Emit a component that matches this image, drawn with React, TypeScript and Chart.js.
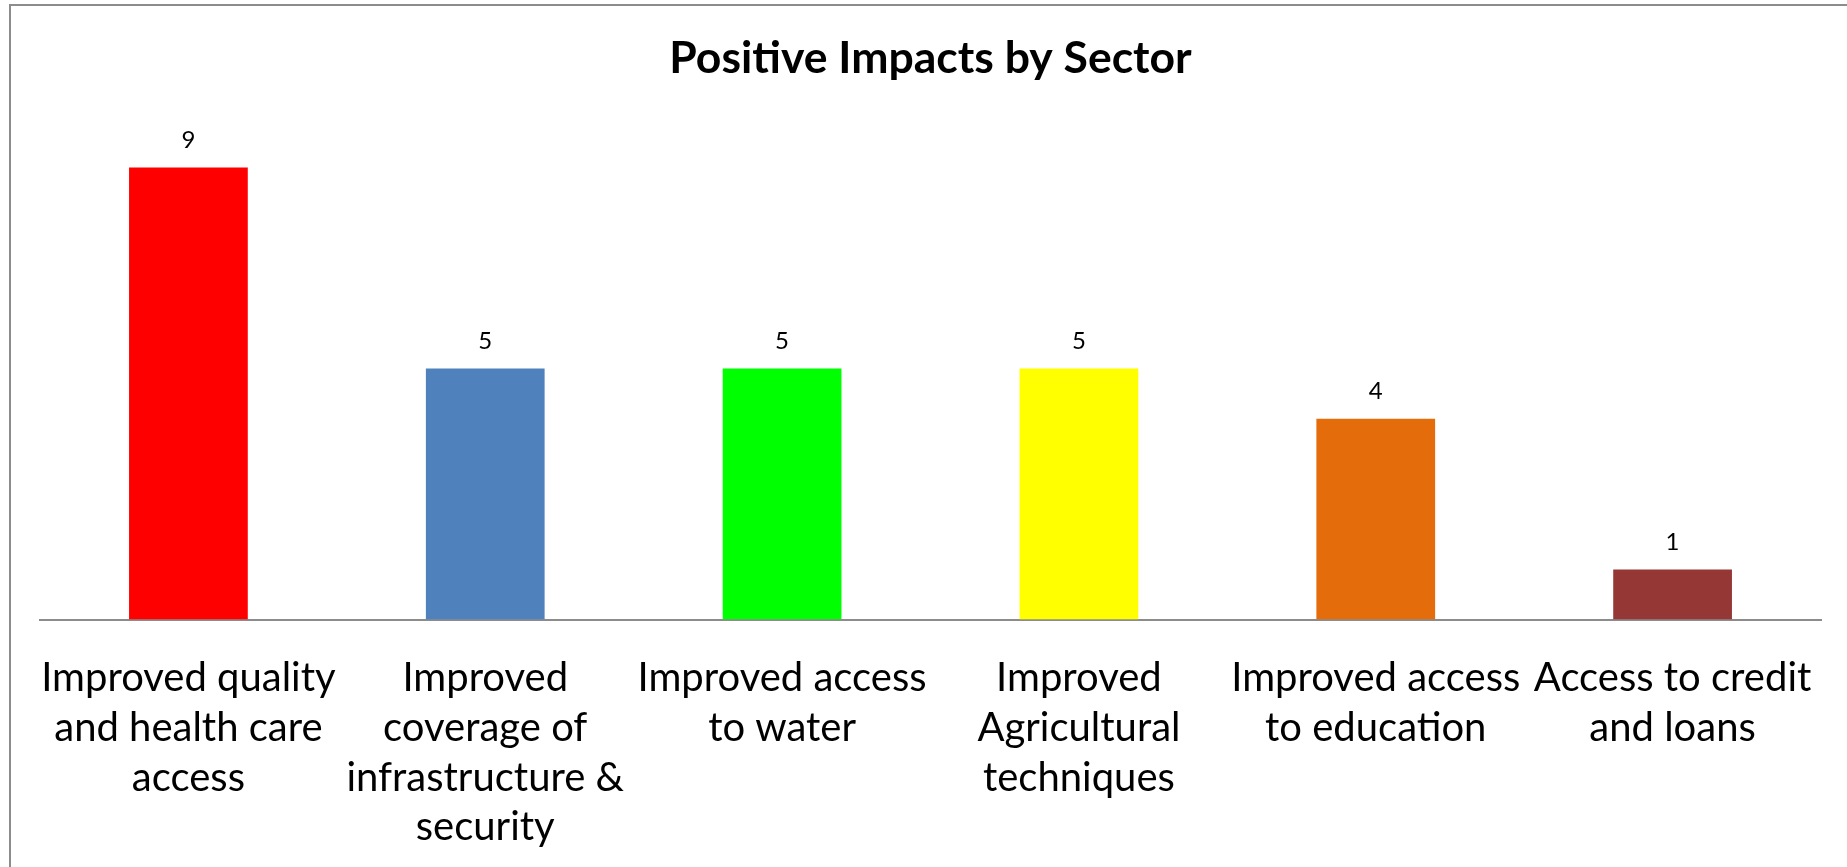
import React, { useEffect, useRef } from "react";
import { Chart, registerables } from "chart.js";

Chart.register(...registerables);

const TITLE = "Positive Impacts by Sector";

const categories: string[][] = [
  ["Improved quality", "and health care", "access"],
  ["Improved", "coverage of", "infrastructure &", "security"],
  ["Improved access", "to water"],
  ["Improved", "Agricultural", "techniques"],
  ["Improved access", "to education"],
  ["Access to credit", "and loans"],
];

const values: number[] = [9, 5, 5, 5, 4, 1];

const barColors: string[] = ["#FF0000", "#4F81BD", "#00FF00", "#FFFF00", "#E46C0A", "#953735"];

const FONT = "Lato, 'Open Sans', sans-serif";

const valueLabelPlugin = {
  id: "valueLabels",
  afterDatasetsDraw(chart: any) {
    const ctx = chart.ctx;
    const meta = chart.getDatasetMeta(0);
    ctx.save();
    ctx.fillStyle = "#000000";
    ctx.font = `24px ${FONT}`;
    ctx.textAlign = "center";
    ctx.textBaseline = "middle";
    meta.data.forEach((bar: any, i: number) => {
      ctx.fillText(String(values[i]), bar.x, bar.y - 27);
    });
    ctx.restore();
  },
};

export default function App() {
  const canvasRef = useRef<HTMLCanvasElement | null>(null);

  useEffect(() => {
    if (!canvasRef.current) return;
    const chart = new Chart(canvasRef.current, {
      type: "bar",
      data: {
        labels: categories,
        datasets: [
          {
            data: values,
            backgroundColor: barColors,
            borderWidth: 0,
            barPercentage: 0.4,
            categoryPercentage: 1,
          },
        ],
      },
      options: {
        animation: false,
        responsive: true,
        maintainAspectRatio: false,
        layout: { padding: { left: 29, right: 26, top: 0, bottom: -5 } },
        plugins: {
          legend: { display: false },
          tooltip: { enabled: false },
          title: {
            display: true,
            text: TITLE,
            color: "#000000",
            font: { family: FONT, size: 44.5, weight: "bold", lineHeight: 1.2 },
            padding: { top: 26, bottom: 32 },
          },
        },
        scales: {
          x: {
            grid: { display: false, drawTicks: false },
            border: { display: true, color: "#8c8c8c", width: 2 },
            afterFit: (scale: any) => {
              scale.paddingLeft = 0;
              scale.paddingRight = 0;
            },
            ticks: {
              color: "#000000",
              font: { family: FONT, size: 40, lineHeight: 1.24 },
              padding: 34,
              autoSkip: false,
              maxRotation: 0,
              minRotation: 0,
            },
          },
          y: {
            display: false,
            min: 0,
            max: 10,
          },
        },
      },
      plugins: [valueLabelPlugin],
    });
    return () => chart.destroy();
  }, []);

  return (
    <div
      style={{
        position: "absolute",
        left: 9,
        top: 4,
        width: 1838,
        height: 863,
        overflow: "hidden",
        borderTop: "2px solid #8c8c8c",
        borderLeft: "2px solid #8c8c8c",
        background: "#ffffff",
        boxSizing: "border-box",
      }}
    >
      <div style={{ position: "relative", width: 1836, height: 875 }}>
        <canvas ref={canvasRef} />
      </div>
    </div>
  );
}
